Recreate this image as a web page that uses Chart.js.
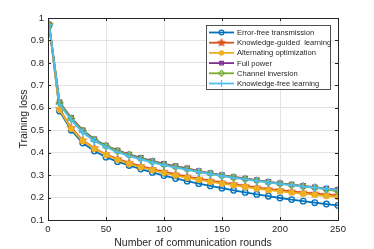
<!DOCTYPE html>
<html>
<head>
<meta charset="utf-8">
<script src="https://cdn.jsdelivr.net/npm/chart.js@4.4.1/dist/chart.umd.min.js"></script>
<style>
  html, body { margin: 0; padding: 0; background: #fff; }
  #wrap { width: 374px; height: 249px; position: relative; }
</style>
</head>
<body>
<div id="wrap"><canvas id="lossChart"></canvas></div>
<script>
// communication rounds where the curves are sampled
const rounds = [1, 10, 20, 30, 40, 50, 60, 70, 80, 90, 100, 110, 120, 130, 140, 150, 160, 170, 180, 190, 200, 210, 220, 230, 240, 250];

const errorFree = [0.97, 0.585, 0.50, 0.443, 0.407, 0.38, 0.36, 0.343, 0.327, 0.312, 0.298, 0.285, 0.273, 0.262, 0.252, 0.242, 0.232, 0.223, 0.214, 0.206, 0.198, 0.191, 0.184, 0.177, 0.171, 0.165];
const knowledgeGuided = [0.97, 0.595, 0.51, 0.455, 0.42, 0.393, 0.372, 0.355, 0.34, 0.327, 0.315, 0.303, 0.293, 0.284, 0.275, 0.267, 0.26, 0.252, 0.245, 0.238, 0.233, 0.227, 0.222, 0.218, 0.213, 0.21];
const alternating = [0.97, 0.592, 0.507, 0.452, 0.417, 0.39, 0.368, 0.35, 0.335, 0.322, 0.31, 0.298, 0.288, 0.279, 0.27, 0.262, 0.255, 0.247, 0.24, 0.233, 0.228, 0.222, 0.217, 0.212, 0.207, 0.203];
const fullPower = [0.97, 0.625, 0.555, 0.50, 0.46, 0.432, 0.41, 0.392, 0.377, 0.363, 0.35, 0.34, 0.33, 0.318, 0.309, 0.30, 0.292, 0.285, 0.278, 0.27, 0.264, 0.258, 0.252, 0.246, 0.24, 0.235];
const channelInversion = [0.97, 0.622, 0.552, 0.497, 0.457, 0.43, 0.407, 0.39, 0.374, 0.36, 0.347, 0.337, 0.327, 0.316, 0.307, 0.298, 0.29, 0.283, 0.276, 0.268, 0.262, 0.256, 0.25, 0.244, 0.236, 0.228];
const knowledgeFree = [0.97, 0.615, 0.545, 0.49, 0.452, 0.425, 0.402, 0.385, 0.37, 0.356, 0.344, 0.333, 0.323, 0.313, 0.304, 0.296, 0.288, 0.281, 0.274, 0.267, 0.261, 0.255, 0.249, 0.244, 0.239, 0.234];

const seriesNames = ['Error-free transmission', 'Knowledge-guided  learning', 'Alternating optimization', 'Full power', 'Channel inversion', 'Knowledge-free learning'];
const xTicks = [0, 50, 100, 150, 200, 250];
const yTicks = [0.1, 0.2, 0.3, 0.4, 0.5, 0.6, 0.7, 0.8, 0.9, 1];

const FONT = '"Liberation Sans", Arial, sans-serif';
const AXIS_COLOR = '#262626';

// filled five point star, chart.js has no such point style
function makeStar(color, r) {
    const c = document.createElement('canvas');
    const s = Math.ceil(r * 2 + 2);
    c.width = s; c.height = s;
    const g = c.getContext('2d');
    g.beginPath();
    for (let i = 0; i < 10; i++) {
        const rr = i % 2 === 0 ? r : r * 0.45;
        const a = -Math.PI / 2 + i * Math.PI / 5;
        const px = s / 2 + rr * Math.cos(a), py = s / 2 + rr * Math.sin(a);
        if (i === 0) g.moveTo(px, py); else g.lineTo(px, py);
    }
    g.closePath();
    g.fillStyle = color;
    g.fill();
    return c;
}

function toPoints(arr) {
    return arr.map(function (v, i) { return { x: rounds[i], y: v }; });
}

const styles = [
    { color: '#0072BD', pointStyle: 'circle', radius: 2.8, fill: false },
    { color: '#D95319', pointStyle: makeStar('#D95319', 5), radius: 5, fill: true },
    { color: '#EDB120', pointStyle: 'circle', radius: 2.5, fill: true },
    { color: '#7E2F8E', pointStyle: 'rect', radius: 3, fill: false },
    { color: '#77AC30', pointStyle: 'rectRot', radius: 3.4, fill: false },
    { color: '#4DBEEE', pointStyle: 'cross', radius: 4, fill: false }
];
const allData = [errorFree, knowledgeGuided, alternating, fullPower, channelInversion, knowledgeFree];

const datasets = allData.map(function (d, i) {
    const st = styles[i];
    return {
        label: seriesNames[i],
        data: toPoints(d),
        order: allData.length - i, // later series drawn on top, like matlab
        borderColor: st.color,
        backgroundColor: st.fill ? st.color : 'rgba(0,0,0,0)',
        borderWidth: 1.8,
        pointStyle: st.pointStyle,
        pointRadius: st.radius,
        pointBorderWidth: 1.3,
        pointBorderColor: st.color,
        pointBackgroundColor: st.fill ? st.color : 'rgba(0,0,0,0)',
        tension: 0
    };
});

// matlab style box, inward ticks and legend inside the axes
const boxPlugin = {
    id: 'boxPlugin',
    afterDatasetsDraw: function (chart) {
        const ctx = chart.ctx;
        const a = chart.chartArea;
        const xs = chart.scales.x, ys = chart.scales.y;
        ctx.save();
        ctx.strokeStyle = AXIS_COLOR;
        ctx.lineWidth = 1;
        ctx.strokeRect(Math.round(a.left) + 0.5, Math.round(a.top) + 0.5, Math.round(a.right - a.left), Math.round(a.bottom - a.top));
        ctx.beginPath();
        xTicks.forEach(function (t) {
            const px = Math.round(xs.getPixelForValue(t)) + 0.5;
            ctx.moveTo(px, a.bottom); ctx.lineTo(px, a.bottom - 3);
            ctx.moveTo(px, a.top); ctx.lineTo(px, a.top + 3);
        });
        yTicks.forEach(function (t) {
            const py = Math.round(ys.getPixelForValue(t)) + 0.5;
            ctx.moveTo(a.left, py); ctx.lineTo(a.left + 3, py);
            ctx.moveTo(a.right, py); ctx.lineTo(a.right - 3, py);
        });
        ctx.stroke();

        // legend
        const lx = 206, ly = 25, lw = 124, lh = 64;
        ctx.fillStyle = '#fff';
        ctx.fillRect(lx, ly, lw, lh);
        ctx.strokeStyle = '#262626';
        ctx.lineWidth = 0.8;
        ctx.strokeRect(lx + 0.5, ly + 0.5, lw, lh);
        ctx.font = '7.6px ' + FONT;
        ctx.textBaseline = 'middle';
        chart.data.datasets.forEach(function (ds, i) {
            const y = ly + 7.5 + i * 10.2;
            ctx.strokeStyle = ds.borderColor;
            ctx.lineWidth = 1.8;
            ctx.beginPath();
            ctx.moveTo(lx + 3, y); ctx.lineTo(lx + 28, y);
            ctx.stroke();
            const opts = chart.getDatasetMeta(i).data[0].options;
            ctx.strokeStyle = ds.borderColor;
            ctx.fillStyle = ds.pointBackgroundColor;
            ctx.lineWidth = 1.2;
            Chart.helpers.drawPoint(ctx, {
                pointStyle: opts.pointStyle,
                radius: opts.radius * 0.85,
                borderWidth: 1.2,
                rotation: 0
            }, lx + 15.5, y);
            ctx.fillStyle = '#262626';
            ctx.fillText(ds.label, lx + 31, y + 0.5);
        });
        ctx.restore();
    }
};

const chart = new Chart(document.getElementById('lossChart'), {
    type: 'line',
    data: { datasets: datasets },
    options: {
        responsive: true,
        maintainAspectRatio: false,
        animation: false,
        layout: { padding: { left: 0, right: 36, top: 18, bottom: 0 } },
        plugins: {
            legend: { display: false },
            tooltip: { enabled: false }
        },
        scales: {
            x: {
                type: 'linear',
                min: 0, max: 250,
                afterBuildTicks: function (axis) { axis.ticks = xTicks.map(function (v) { return { value: v }; }); },
                afterFit: function (axis) { axis.height = 29; },
                grid: { color: '#e3e3e3', drawTicks: false },
                border: { display: false },
                ticks: { color: AXIS_COLOR, font: { family: FONT, size: 9.5 }, padding: 4, maxRotation: 0 },
                title: { display: true, text: 'Number of communication rounds', color: AXIS_COLOR, font: { family: FONT, size: 10.5 }, padding: { top: 0, bottom: 0 } }
            },
            y: {
                min: 0.1, max: 1,
                afterBuildTicks: function (axis) { axis.ticks = yTicks.map(function (v) { return { value: v }; }); },
                afterFit: function (axis) { axis.width = 48; },
                grid: { color: '#e3e3e3', drawTicks: false },
                border: { display: false },
                ticks: { color: AXIS_COLOR, font: { family: FONT, size: 9.5 }, padding: 4,
                    callback: function (v) { return String(Math.round(v * 10) / 10); } },
                title: { display: true, text: 'Training loss', color: AXIS_COLOR, font: { family: FONT, size: 10.5 }, padding: { top: 18, bottom: 0 } }
            }
        }
    },
    plugins: [boxPlugin]
});
</script>
</body>
</html>
